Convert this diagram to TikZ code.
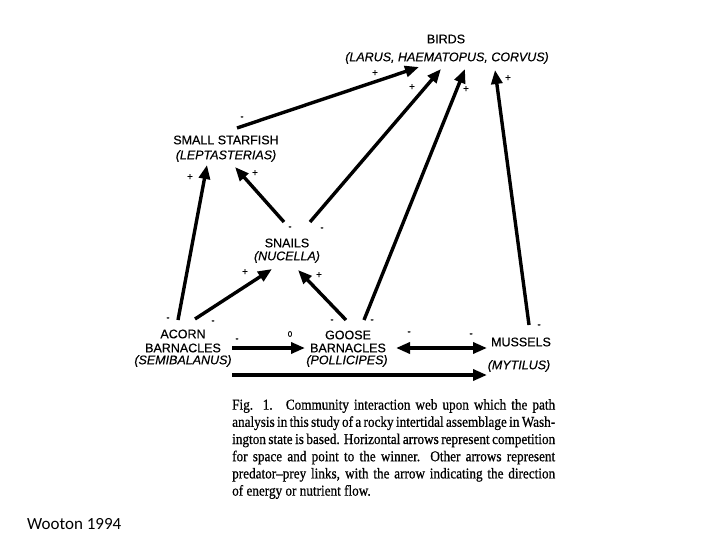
\documentclass[tikz,border=0pt]{standalone}
\usepackage{fontspec}
\setmainfont{Liberation Serif}[FakeBold=0.7]
\setsansfont{Liberation Sans}[FakeBold=0.4]
\newfontfamily\calib{Carlito}
\usepackage{graphicx}
\usetikzlibrary{arrows.meta}
\begin{document}
\begin{tikzpicture}[x=1pt,y=-1pt,
  taxon/.style={font=\sffamily\fontsize{12.5}{14}\selectfont, inner sep=0pt, align=center},
  sgn/.style={font=\sffamily\fontsize{10}{10}\selectfont, inner sep=0pt},
  link/.style={line width=3.4pt, -{Triangle[length=14pt,width=11pt]}, shorten >=0pt},
  dlink/.style={line width=3.4pt, {Triangle[length=14pt,width=11pt]}-{Triangle[length=14pt,width=11pt]}}]
\useasboundingbox (0,0) rectangle (720,540);
\fill[white] (0,0) rectangle (720,540);

% taxa
\node[taxon] (birds) at (446,39) {BIRDS};
\node[taxon] (birdsg) at (447,58) {\itshape (LARUS, HAEMATOPUS, CORVUS)};
\node[taxon] (star) at (226,140) {SMALL STARFISH};
\node[taxon] (starg) at (226,156) {\itshape (LEPTASTERIAS)};
\node[taxon] (snails) at (287,243) {SNAILS};
\node[taxon] (snailsg) at (287,257) {\itshape (NUCELLA)};
\node[taxon] (acorn) at (183,334) {ACORN};
\node[taxon] (acornb) at (183,348) {BARNACLES};
\node[taxon] (acorng) at (183,361) {\itshape (SEMIBALANUS)};
\node[taxon] (goose) at (348,335) {GOOSE};
\node[taxon] (gooseb) at (348,348) {BARNACLES};
\node[taxon] (gooseg) at (347,361) {\itshape (POLLICIPES)};
\node[taxon] (muss) at (521,342) {MUSSELS};
\node[taxon] (mussg) at (519,366) {\itshape (MYTILUS)};

% connector end points
\coordinate (sfA) at (237,128);
\coordinate (bA) at (419,67);
\coordinate (snA) at (310,222);
\coordinate (bB) at (441,69);
\coordinate (gA) at (364,320);
\coordinate (bC) at (465,69);
\coordinate (mA) at (529,325);
\coordinate (bD) at (495,70);
\coordinate (acA) at (178,320);
\coordinate (sfB) at (207,165);
\coordinate (snB) at (284,222);
\coordinate (sfC) at (235,167);
\coordinate (acB) at (195,319);
\coordinate (snC) at (272,269);
\coordinate (gB) at (346,320);
\coordinate (snD) at (298,270);
\coordinate (acC) at (232,348);
\coordinate (gC) at (305,348);
\coordinate (gD) at (396,348);
\coordinate (mB) at (487,348);
\coordinate (acD) at (232,375);
\coordinate (mC) at (487,375);

\draw[link] (sfA) -- (bA);
\draw[link] (snA) -- (bB);
\draw[link] (gA) -- (bC);
\draw[link] (mA) -- (bD);
\draw[link] (acA) -- (sfB);
\draw[link] (snB) -- (sfC);
\draw[link] (acB) -- (snC);
\draw[link] (gB) -- (snD);
\draw[link] (acC) -- (gC);
\draw[dlink] (gD) -- (mB);
\draw[link] (acD) -- (mC);

% signs
\node[sgn] (p1) at (375,73) {+};
\node[sgn] (p2) at (412,87) {+};
\node[sgn] (p3) at (466,89) {+};
\node[sgn] (p4) at (508,78) {+};
\node[sgn] (m1) at (242,118) {-};
\node[sgn] (p5) at (190,177) {+};
\node[sgn] (p6) at (255,173) {+};
\node[sgn] (m2) at (290,228) {-};
\node[sgn] (m3) at (322,229) {-};
\node[sgn] (p7) at (245,272) {+};
\node[sgn] (p8) at (319,275) {+};
\node[sgn] (m4) at (168,319) {-};
\node[sgn] (m5) at (213,322) {-};
\node[sgn] (m6) at (332,321) {-};
\node[sgn] (m7) at (372,321) {-};
\node[sgn] (m8) at (237,340) {-};
\node[sgn, font=\sffamily\fontsize{8}{8}\selectfont] (z1) at (290,334) {0};
\node[sgn] (m9) at (409,333) {-};
\node[sgn] (m10) at (471,335) {-};
\node[sgn] (m11) at (539,326) {-};

% caption
\node[anchor=north west, inner sep=0pt] (cap) at (232,399)
{\scalebox{0.88}[1]{\parbox[t]{367pt}{\fontsize{15}{17.2}\selectfont
\rightskip=0pt \parindent=0pt
\textsc{Fig}. 1.\quad Community interaction web upon which the path\linebreak
analysis in this study of a rocky intertidal assemblage in Wash-\linebreak
ington state is based. Horizontal arrows represent competition\linebreak
for space and point to the winner. Other arrows represent\linebreak
predator–prey links, with the arrow indicating the direction\linebreak
of energy or nutrient flow.}}};

\node[anchor=west, inner sep=0pt, font=\calib\fontsize{17}{19}\selectfont] (cite) at (27,524) {Wooton 1994};
\end{tikzpicture}
\end{document}
